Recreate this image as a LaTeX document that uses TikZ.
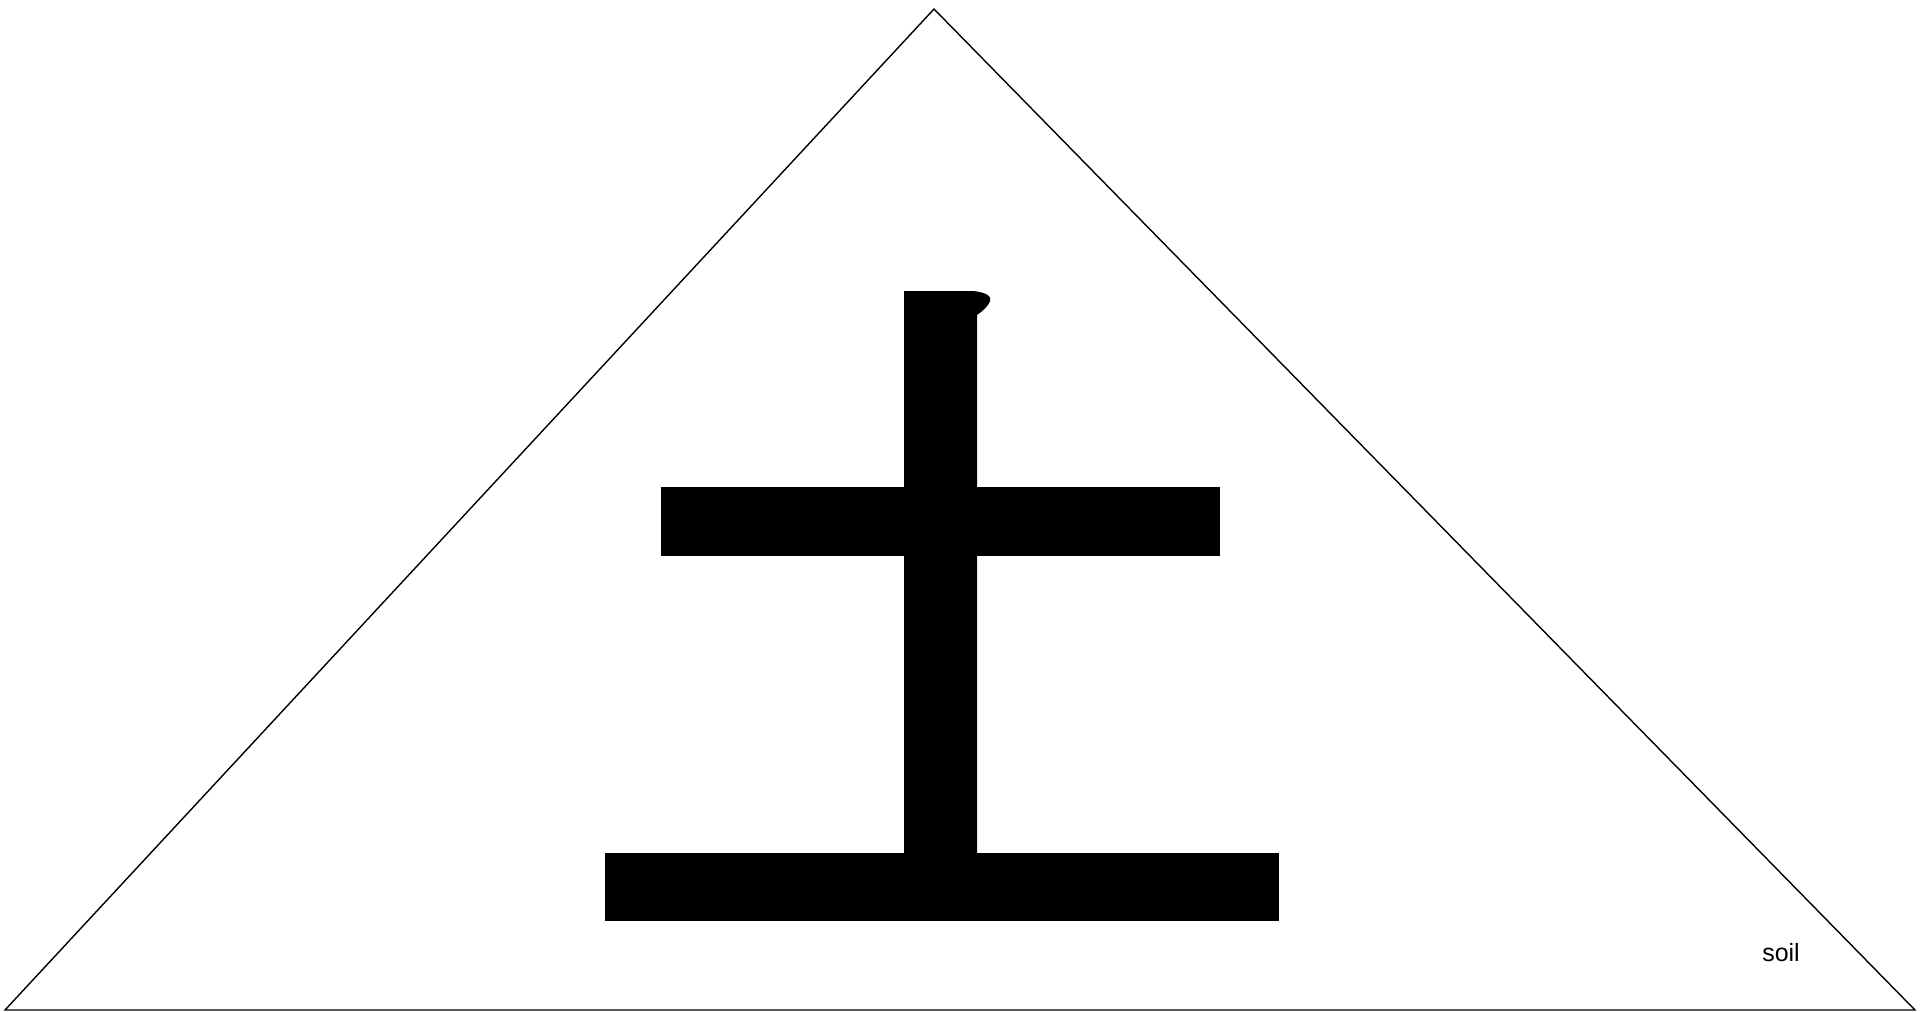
\documentclass[tikz,border=0pt]{standalone}
\usepackage{fontspec}
\setmainfont{Liberation Sans}
\usepackage{tikz}
\usetikzlibrary{positioning}
\tikzset{
  outline/.style={black, line width=0.4pt, line join=miter},
  stroke/.style={fill=black, draw=none},
  label/.style={font=\fontsize{7.1}{8}\selectfont, inner sep=0pt}
}

\begin{document}
\begin{tikzpicture}[x=0.01cm, y=-0.01cm]
\useasboundingbox (0,0) rectangle (1920,1011);
% ---------- the outer triangle
\draw[outline] (934,9) -- (1915,1010) -- (5,1010) -- cycle;

% ---------- the sign: three bars and the stem
\fill[stroke] (904,291) -- (974,291)
     .. controls (987,293) and (992,296) .. (990,301)
     .. controls (989,305) and (984,310) .. (977,315)
     -- (977,853) -- (904,853) -- cycle;
\fill[stroke] (661,487) rectangle (1220,556);
\fill[stroke] (605,853) rectangle (1279,921);

\node[label, anchor=base] (soil) at (1781,961) {soil};
\end{tikzpicture}
\end{document}
